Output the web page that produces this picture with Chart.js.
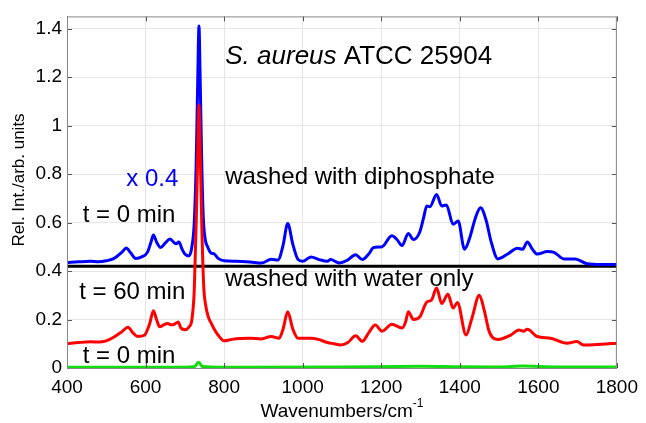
<!DOCTYPE html>
<html>
<head>
<meta charset="utf-8">
<script src="https://cdn.jsdelivr.net/npm/chart.js@4/dist/chart.umd.min.js"></script>
<style>
  body { margin: 0; background: #fff; }
  canvas { display: block; }
</style>
</head>
<body>
<canvas id="spectrum" width="646" height="423"></canvas>
<script>
// washed with diphosphate, t = 0 min (scaled x 0.4, offset)
const diphosWn = [400, 430, 460, 480, 500, 520, 540, 551, 562, 575, 590, 605, 614, 620, 628, 638, 650, 662, 672, 678, 685, 693, 700, 710, 718, 724, 729, 733, 736, 739, 743, 747, 752, 758, 766, 775, 785, 800, 830, 866, 895, 920, 937, 950, 962, 975, 988, 1000, 1021, 1042, 1063, 1071, 1093, 1114, 1135, 1152, 1168, 1181, 1202, 1227, 1240, 1253, 1269, 1282, 1298, 1308, 1316, 1324, 1341, 1354, 1366, 1383, 1396, 1412, 1425, 1440, 1453, 1467, 1480, 1497, 1522, 1547, 1560, 1572, 1585, 1597, 1623, 1640, 1665, 1694, 1724, 1760, 1800];
const diphosT0 = [0.435, 0.438, 0.440, 0.438, 0.442, 0.452, 0.478, 0.495, 0.475, 0.452, 0.458, 0.478, 0.520, 0.548, 0.520, 0.497, 0.515, 0.532, 0.518, 0.512, 0.520, 0.490, 0.470, 0.462, 0.500, 0.600, 0.850, 1.200, 1.410, 1.200, 0.850, 0.620, 0.530, 0.500, 0.475, 0.470, 0.452, 0.442, 0.440, 0.437, 0.433, 0.448, 0.445, 0.505, 0.596, 0.510, 0.448, 0.440, 0.458, 0.447, 0.440, 0.447, 0.433, 0.445, 0.467, 0.447, 0.470, 0.497, 0.500, 0.545, 0.530, 0.505, 0.555, 0.530, 0.560, 0.620, 0.668, 0.665, 0.716, 0.668, 0.672, 0.593, 0.606, 0.490, 0.535, 0.620, 0.661, 0.610, 0.520, 0.450, 0.470, 0.494, 0.490, 0.520, 0.490, 0.470, 0.480, 0.477, 0.450, 0.450, 0.430, 0.427, 0.427];

// washed with water only, t = 60 min
const waterWn = [400, 430, 460, 480, 500, 521, 540, 555, 568, 580, 597, 610, 620, 628, 636, 646, 656, 666, 673, 683, 690, 700, 711, 718, 724, 729, 733, 736, 739, 743, 748, 753, 760, 767, 775, 785, 800, 820, 840, 866, 895, 920, 940, 950, 962, 975, 988, 1021, 1040, 1063, 1080, 1097, 1115, 1135, 1152, 1168, 1185, 1202, 1227, 1253, 1262, 1269, 1282, 1298, 1316, 1328, 1341, 1354, 1370, 1383, 1394, 1416, 1430, 1450, 1462, 1475, 1497, 1530, 1551, 1562, 1572, 1597, 1631, 1673, 1698, 1715, 1760, 1800];
const waterT60 = [0.100, 0.105, 0.108, 0.107, 0.112, 0.129, 0.150, 0.168, 0.145, 0.130, 0.135, 0.180, 0.236, 0.200, 0.170, 0.178, 0.184, 0.178, 0.180, 0.190, 0.165, 0.158, 0.170, 0.200, 0.320, 0.600, 0.900, 1.084, 0.900, 0.600, 0.340, 0.260, 0.210, 0.185, 0.160, 0.135, 0.112, 0.118, 0.122, 0.123, 0.120, 0.130, 0.123, 0.160, 0.232, 0.160, 0.123, 0.123, 0.118, 0.105, 0.100, 0.095, 0.105, 0.133, 0.110, 0.145, 0.177, 0.152, 0.180, 0.165, 0.190, 0.232, 0.200, 0.210, 0.272, 0.280, 0.330, 0.266, 0.304, 0.247, 0.270, 0.136, 0.200, 0.300, 0.240, 0.150, 0.118, 0.136, 0.157, 0.152, 0.160, 0.130, 0.123, 0.102, 0.109, 0.095, 0.098, 0.102];

// washed with water only, t = 0 min
const waterT0Wn = [400, 700, 725, 735, 745, 800, 1100, 1300, 1400, 1500, 1560, 1650, 1800];
const waterT0 = [0.003, 0.003, 0.006, 0.024, 0.006, 0.003, 0.004, 0.007, 0.005, 0.004, 0.008, 0.004, 0.004];

// separator between the two panels
const dividerWn = [400, 1800];
const dividerVal = [0.42, 0.42];

const xTicks = [400, 600, 800, 1000, 1200, 1400, 1600, 1800];
const yTicks = [0, 0.2, 0.4, 0.6, 0.8, 1, 1.2, 1.4];

const FONT = "'Liberation Sans', Arial, Helvetica, sans-serif";

function points(xs, ys) {
    return xs.map((x, i) => ({ x: x, y: ys[i] }));
}

// box, inner tick marks and the text labels
const decorations = {
    id: 'decorations',
    afterDatasetsDraw(chart) {
        const { ctx, chartArea: a, scales: { x, y } } = chart;
        ctx.save();

        // inward tick marks
        ctx.strokeStyle = '#555';
        ctx.lineWidth = 1;
        ctx.beginPath();
        yTicks.forEach(v => {
            const py = Math.round(y.getPixelForValue(v)) + 0.5;
            ctx.moveTo(a.left, py); ctx.lineTo(a.left + 5, py);
            ctx.moveTo(a.right, py); ctx.lineTo(a.right - 5, py);
        });
        xTicks.forEach(v => {
            const px = Math.round(x.getPixelForValue(v)) + 0.5;
            ctx.moveTo(px, a.bottom); ctx.lineTo(px, a.bottom - 5);
            ctx.moveTo(px, a.top); ctx.lineTo(px, a.top + 5);
        });
        ctx.stroke();

        // frame
        ctx.strokeStyle = '#888';
        ctx.strokeRect(a.left + 0.5, a.top + 0.5, a.right - a.left - 1, a.bottom - a.top);

        // annotations, placed in data units
        ctx.textBaseline = 'alphabetic';
        ctx.textAlign = 'left';
        ctx.fillStyle = '#000';

        let tx = x.getPixelForValue(803), ty = y.getPixelForValue(1.253);
        ctx.font = 'italic 26px ' + FONT;
        ctx.fillText('S. aureus', tx, ty);
        tx += ctx.measureText('S. aureus').width;
        ctx.font = '26px ' + FONT;
        ctx.fillText(' ATCC 25904', tx, ty);

        ctx.font = '24px ' + FONT;
        ctx.fillText('washed with diphosphate', x.getPixelForValue(803), y.getPixelForValue(0.757));
        ctx.fillText('washed with water only', x.getPixelForValue(803), y.getPixelForValue(0.337));
        ctx.fillText('t = 0 min', x.getPixelForValue(440), y.getPixelForValue(0.604));
        ctx.fillText('t = 60 min', x.getPixelForValue(431), y.getPixelForValue(0.286));
        ctx.fillText('t = 0 min', x.getPixelForValue(440), y.getPixelForValue(0.02));

        ctx.fillStyle = '#0000ff';
        ctx.fillText('x 0.4', x.getPixelForValue(551), y.getPixelForValue(0.75));

        // axis titles
        ctx.fillStyle = '#000';
        ctx.font = '19px ' + FONT;
        const main = 'Wavenumbers/cm';
        const mw = ctx.measureText(main).width;
        ctx.font = '12px ' + FONT;
        const sw = ctx.measureText('-1').width;
        const cx = (a.left + a.right) / 2;
        const left = cx - (mw + sw) / 2;
        ctx.font = '19px ' + FONT;
        ctx.fillText(main, left, 417);
        ctx.font = '12px ' + FONT;
        ctx.fillText('-1', left + mw, 407);

        ctx.save();
        ctx.translate(24, 180);
        ctx.rotate(-Math.PI / 2);
        ctx.textAlign = 'center';
        ctx.font = '17px ' + FONT;
        ctx.fillText('Rel. Int./arb. units', 0, 0);
        ctx.restore();

        ctx.restore();
    }
};

const lineStyle = { borderWidth: 3, pointRadius: 0, fill: false, cubicInterpolationMode: 'monotone' };

new Chart(document.getElementById('spectrum'), {
    type: 'line',
    data: {
        datasets: [
            Object.assign({ label: 'water t=0', data: points(waterT0Wn, waterT0), borderColor: '#11dd11' }, lineStyle),
            Object.assign({ label: 'water t=60', data: points(waterWn, waterT60), borderColor: '#ff0000' }, lineStyle),
            Object.assign({ label: 'diphosphate t=0', data: points(diphosWn, diphosT0), borderColor: '#0000ff' }, lineStyle),
            Object.assign({ label: 'divider', data: points(dividerWn, dividerVal), borderColor: '#000000' }, lineStyle)
        ]
    },
    options: {
        responsive: false,
        animation: false,
        devicePixelRatio: 1,
        layout: { padding: { top: 13, right: 24, left: 0, bottom: 0 } },
        plugins: {
            legend: { display: false },
            tooltip: { enabled: false }
        },
        scales: {
            x: {
                type: 'linear',
                min: 400,
                max: 1800,
                afterFit: s => { s.height = 55; },
                border: { display: false },
                grid: { color: '#e6e6e6', drawTicks: false },
                ticks: {
                    stepSize: 200, padding: 8, color: '#000', maxRotation: 0,
                    font: { family: FONT, size: 19 },
                    callback: v => String(v)
                }
            },
            y: {
                min: 0,
                max: 1.45,
                afterFit: s => { s.width = 67; },
                border: { display: false },
                grid: { color: '#e6e6e6', drawTicks: false },
                ticks: {
                    stepSize: 0.2, includeBounds: false, padding: 5, color: '#000',
                    font: { family: FONT, size: 19 },
                    callback: v => String(Math.round(v * 10) / 10)
                }
            }
        }
    },
    plugins: [decorations]
});
</script>
</body>
</html>
